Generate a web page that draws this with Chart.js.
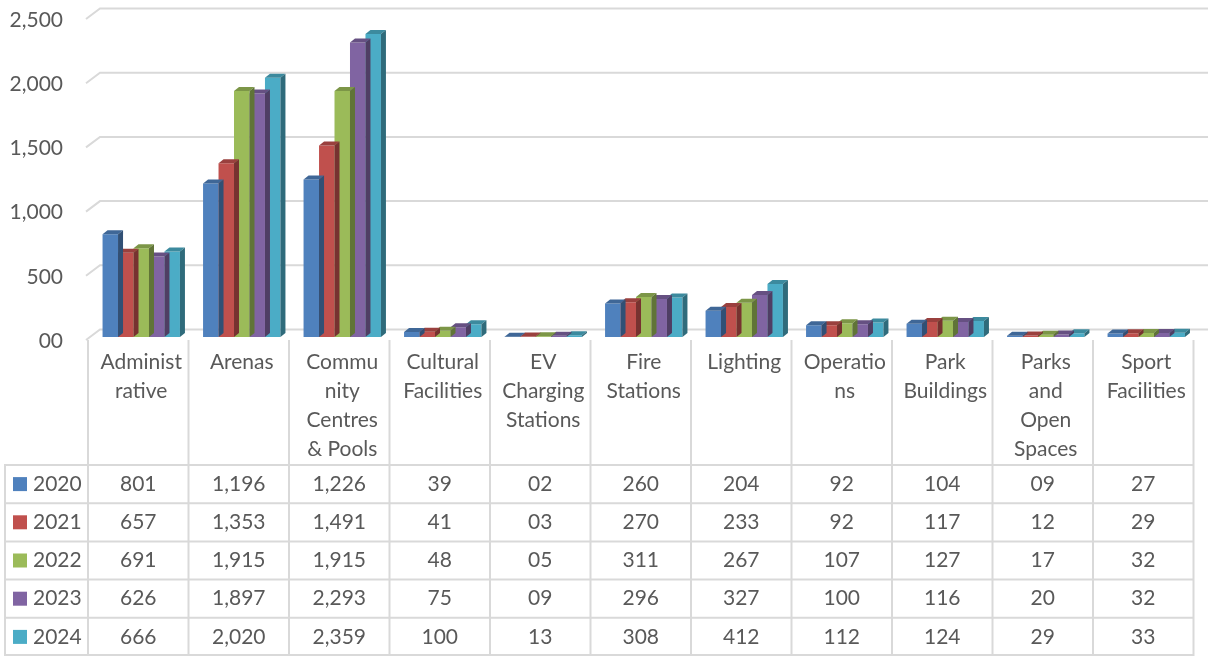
<!DOCTYPE html>
<html>
<head>
<meta charset="utf-8">
<script src="https://cdn.jsdelivr.net/npm/chart.js@4.4.1/dist/chart.umd.min.js"></script>
<style>
  body { margin: 0; background: #fff; }
  canvas { display: block; }
</style>
</head>
<body>
<canvas id="chart" width="1213" height="656"></canvas>
<script>
// category labels, wrapped the way the table header wraps them
const categories = [
  ['Administ', 'rative'], ['Arenas'], ['Commu', 'nity', 'Centres', '& Pools'],
  ['Cultural', 'Facilities'], ['EV', 'Charging', 'Stations'], ['Fire', 'Stations'],
  ['Lighting'], ['Operatio', 'ns'], ['Park', 'Buildings'], ['Parks', 'and', 'Open', 'Spaces'],
  ['Sport', 'Facilities']
];
const years = ['2020', '2021', '2022', '2023', '2024'];
const colors = ['#4F81BD', '#C0504D', '#9BBB59', '#8064A2', '#4BACC6'];

const values2020 = [801, 1196, 1226, 39, 2, 260, 204, 92, 104, 9, 27];
const values2021 = [657, 1353, 1491, 41, 3, 270, 233, 92, 117, 12, 29];
const values2022 = [691, 1915, 1915, 48, 5, 311, 267, 107, 127, 17, 32];
const values2023 = [626, 1897, 2293, 75, 9, 296, 327, 100, 116, 20, 32];
const values2024 = [666, 2020, 2359, 100, 13, 308, 412, 112, 124, 29, 33];
const series = [values2020, values2021, values2022, values2023, values2024];

const yTickLabels = ['00', '500', '1,000', '1,500', '2,000', '2,500'];

const FONT = 'Lato';
const TEXT = '#595959';
const LINE = '#d9d9d9';
const DX = 5, DY = 4; // bar depth

function shade(hex, f) {
  const n = parseInt(hex.slice(1), 16);
  const r = Math.round(((n >> 16) & 255) * f);
  const g = Math.round(((n >> 8) & 255) * f);
  const b = Math.round((n & 255) * f);
  return `rgb(${r},${g},${b})`;
}

// excel "#,#00" style
function fmt(v) {
  return v < 10 ? '0' + v : v.toLocaleString('en-US');
}

const threeD = {
  id: 'threeD',
  beforeDatasetsDraw(chart) {
    const { ctx, chartArea } = chart;
    const y = chart.scales.y;
    ctx.save();
    ctx.strokeStyle = LINE;
    ctx.lineWidth = 2;
    y.ticks.forEach(t => {
      const py = y.getPixelForValue(t.value);
      ctx.beginPath();
      ctx.moveTo(chartArea.left - 5, py + 3);
      ctx.lineTo(chartArea.left + 9, py - 7.5);
      ctx.lineTo(chartArea.right + 11.5, py - 7.5);
      ctx.stroke();
    });
    ctx.restore();
  },
  afterDatasetDraw(chart, args) {
    const { ctx } = chart;
    const c = colors[args.index];
    ctx.save();
    args.meta.data.forEach(bar => {
      const { x, y, base, width } = bar.getProps(['x', 'y', 'base', 'width'], true);
      const l = x - width / 2, r = x + width / 2;
      ctx.fillStyle = shade(c, 0.8);
      ctx.beginPath();
      ctx.moveTo(l, y);
      ctx.lineTo(r, y);
      ctx.lineTo(r + DX, y - DY);
      ctx.lineTo(l + DX, y - DY);
      ctx.closePath();
      ctx.fill();
      ctx.fillStyle = shade(c, 0.62);
      ctx.beginPath();
      ctx.moveTo(r, y);
      ctx.lineTo(r + DX, y - DY);
      ctx.lineTo(r + DX, base - DY);
      ctx.lineTo(r, base);
      ctx.closePath();
      ctx.fill();
    });
    ctx.restore();
  },
  afterDraw(chart) {
    // data table under the plot
    const { ctx } = chart;
    const xs = chart.scales.x;
    const colW = (xs.right - xs.left) / categories.length;
    const left = xs.left - 3;
    const right = left + colW * categories.length;
    const top = 465, rowH = 38.2, bottom = top + rowH * years.length;
    ctx.save();
    ctx.strokeStyle = LINE;
    ctx.lineWidth = 2;
    ctx.beginPath();
    for (let i = 0; i <= categories.length; i++) {
      const px = left + i * colW;
      ctx.moveTo(px, 340);
      ctx.lineTo(px, bottom);
    }
    ctx.moveTo(5, top);
    ctx.lineTo(5, bottom);
    for (let j = 0; j <= years.length; j++) {
      const py = Math.min(top + j * rowH, 655);
      ctx.moveTo(4, py);
      ctx.lineTo(right + 1, py);
    }
    ctx.stroke();

    ctx.font = `21px ${FONT}`;
    ctx.fillStyle = TEXT;
    ctx.textBaseline = 'middle';
    years.forEach((yr, j) => {
      const cy = top + j * rowH + rowH / 2;
      ctx.fillStyle = colors[j];
      ctx.fillRect(13, cy - 7, 14, 14);
      ctx.fillStyle = TEXT;
      ctx.textAlign = 'left';
      ctx.fillText(yr, 33, cy);
      ctx.textAlign = 'center';
      series[j].forEach((v, i) => {
        ctx.fillText(fmt(v), left + i * colW + colW / 2, cy);
      });
    });
    ctx.restore();
  }
};

function noPad(scale) {
  scale.paddingTop = 0;
  scale.paddingBottom = 0;
}

new Chart(document.getElementById('chart'), {
  type: 'bar',
  data: {
    labels: categories,
    datasets: years.map((yr, j) => ({
      label: yr,
      data: series[j],
      backgroundColor: colors[j],
      borderWidth: 0,
      barPercentage: 1,
      categoryPercentage: 0.77
    }))
  },
  options: {
    responsive: false,
    animation: false,
    layout: { padding: { top: 16, left: 0, right: 16.5, bottom: 191 } },
    plugins: {
      legend: { display: false },
      tooltip: { enabled: false }
    },
    scales: {
      x: {
        grid: { display: false, drawTicks: false },
        border: { display: false },
        afterFit(scale) { scale.height = 128; noPad(scale); },
        ticks: {
          color: TEXT,
          font: { family: FONT, size: 21, lineHeight: 1.38 },
          padding: 11,
          maxRotation: 0,
          autoSkip: false
        }
      },
      y: {
        min: 0,
        max: 2500,
        grid: { display: false, drawTicks: false },
        border: { display: false },
        afterFit(scale) { scale.width = 91; noPad(scale); },
        ticks: {
          stepSize: 500,
          color: TEXT,
          font: { family: FONT, size: 21 },
          padding: 28,
          labelOffset: 4,
          callback: (v, i) => yTickLabels[i]
        }
      }
    }
  },
  plugins: [threeD]
});
</script>
</body>
</html>
